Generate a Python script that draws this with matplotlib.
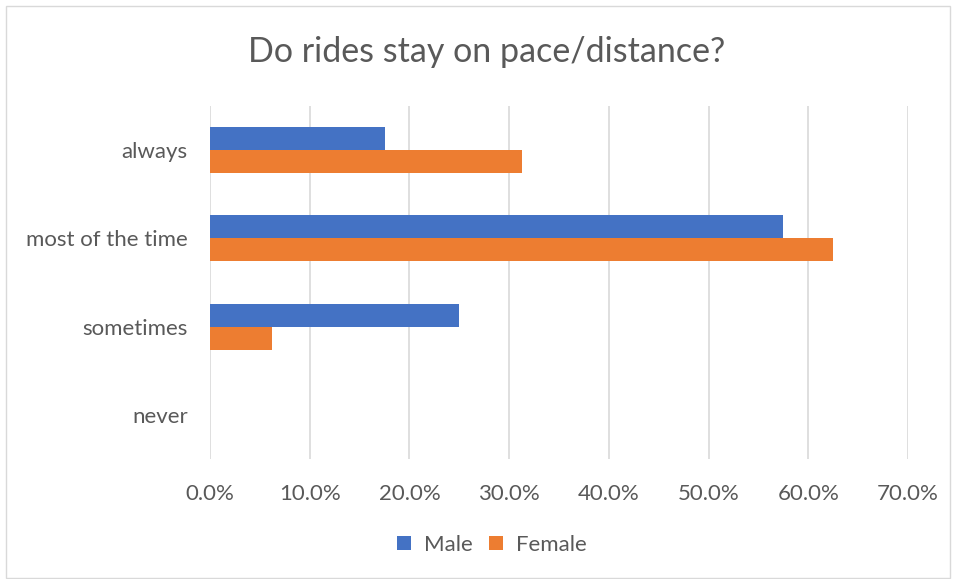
import matplotlib
matplotlib.use("Agg")
import matplotlib.pyplot as plt
from matplotlib.patches import Rectangle
import numpy as np

categories = ["always", "most of the time", "sometimes", "never"]
male = [17.5, 57.5, 25.0, 0.0]
female = [31.25, 62.5, 6.25, 0.0]
xticks = [0, 10, 20, 30, 40, 50, 60, 70]

plt.rcParams['font.family'] = ['Lato', 'DejaVu Sans']
gray = "#595959"

fig = plt.figure(figsize=(9.56, 5.79), dpi=100)
ax = fig.add_axes([210/956, (579-459)/579, (908-210)/956, (459-106)/579])

y = np.arange(len(categories))
h = 0.26
ax.barh(y - h/2, male, height=h, color="#4472C4", label="Male", zorder=3)
ax.barh(y + h/2, female, height=h, color="#ED7D31", label="Female", zorder=3)

ax.set_ylim(len(categories) - 0.5, -0.5)
ax.set_yticks(y)
ax.set_yticklabels(categories, fontsize=16, color=gray)
ax.set_xlim(0, 70)
ax.set_xticks(xticks)
ax.set_xticklabels([f"{v:.1f}%" for v in xticks], fontsize=16, color=gray)
ax.tick_params(length=0)
ax.tick_params(axis='x', pad=18)
ax.tick_params(axis='y', pad=16)
ax.grid(axis='x', color="#d9d9d9", linewidth=1.2, zorder=0)
for s in ax.spines.values():
    s.set_visible(False)

fig.text(487/956, 1 - 52/579, "Do rides stay on pace/distance?", ha="center", va="center",
         fontsize=24.5, color=gray)

leg = fig.legend(loc="center", bbox_to_anchor=(492/956, 1 - 545/579), ncol=2, frameon=False,
                 fontsize=16, handlelength=0.6, handleheight=0.6, columnspacing=0.75,
                 handletextpad=0.6)
for t in leg.get_texts():
    t.set_color(gray)

fig.patches.append(Rectangle((6/956, 1/579), 944/956, 572/579, transform=fig.transFigure,
                             fill=False, edgecolor="#d9d9d9", linewidth=1))

fig.savefig("out.png", dpi=100)
